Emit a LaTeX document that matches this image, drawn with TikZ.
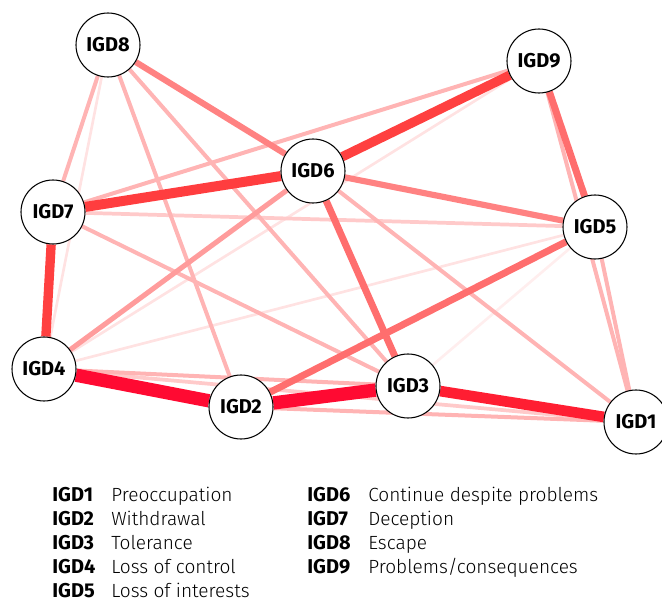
\documentclass[tikz,border=0pt]{standalone}
\usepackage{fontspec}
\setmainfont{Fira Sans Light}[BoldFont={Fira Sans Bold}]
\usepackage{xcolor}
\usepackage{tikz}
\usetikzlibrary{backgrounds}

\definecolor{tieA}{HTML}{FF0A32}
\definecolor{tieB}{HTML}{FF1E32}
\definecolor{tieC}{HTML}{FF4040}
\definecolor{tieD}{HTML}{FF6E6E}
\definecolor{tieE}{HTML}{FF8282}
\definecolor{tieF}{HTML}{FF9C9C}
\definecolor{tieG}{HTML}{FFB4B4}
\definecolor{tieH}{HTML}{FFCACA}
\definecolor{tieI}{HTML}{FFE2E2}

\begin{document}
\begin{tikzpicture}[
    x=0.75pt, y=0.75pt,
    symptom/.style={circle, draw=black, line width=0.8pt, fill=white, minimum size=48pt, inner sep=0pt, font=\fontsize{15}{18}\selectfont\bfseries},
    key/.style={anchor=base west, inner sep=0pt, font=\fontsize{15}{18}\selectfont\bfseries},
    keytext/.style={anchor=base west, inner sep=0pt, font=\fontsize{14.3}{18}\selectfont},
    tie1/.style={line width=10pt, draw=tieA},
    tie2/.style={line width=8pt, draw=tieB},
    tie3/.style={line width=7pt, draw=tieC},
    tie4/.style={line width=5.2pt, draw=tieD},
    tie5/.style={line width=4.6pt, draw=tieE},
    tie6/.style={line width=3.8pt, draw=tieF},
    tie7/.style={line width=3pt, draw=tieG},
    tie8/.style={line width=2.8pt, draw=tieH},
    tie9/.style={line width=2pt, draw=tieI}
]
\useasboundingbox (0,0) rectangle (662,601);

% symptoms
\node[symptom] (igd1) at (636,179) {IGD1};
\node[symptom] (igd2) at (241,194) {IGD2};
\node[symptom] (igd3) at (408,215) {IGD3};
\node[symptom] (igd4) at (44,232) {IGD4};
\node[symptom] (igd5) at (595,374) {IGD5};
\node[symptom] (igd6) at (313,430) {IGD6};
\node[symptom] (igd7) at (53,389) {IGD7};
\node[symptom] (igd8) at (108,556) {IGD8};
\node[symptom] (igd9) at (539,540) {IGD9};

\begin{pgfonlayer}{background}
% faint edges
\draw[tie9] (igd8) -- (igd4);
\draw[tie9] (igd4) -- (igd9);
\draw[tie9] (igd4) -- (igd5);
\draw[tie9, draw=tieI!60!white] (igd5) -- (igd3);
\draw[tie8] (igd7) -- (igd5);
\draw[tie8] (igd4) -- (igd1);

% light edges
\draw[tie7] (igd8) -- (igd7);
\draw[tie7] (igd8) -- (igd2);
\draw[tie7] (igd8) -- (igd3);
\draw[tie7] (igd7) -- (igd9);
\draw[tie7] (igd7) -- (igd3);
\draw[tie7] (igd6) -- (igd1);
\draw[tie7] (igd4) -- (igd3);
\draw[tie7] (igd2) -- (igd1);
\draw[tie7] (igd5) -- (igd1);
\draw[tie7] (igd9) -- (igd1);

% medium edges
\draw[tie6] (igd4) -- (igd6);
\draw[tie5] (igd8) -- (igd6);
\draw[tie5] (igd6) -- (igd5);
\draw[tie4] (igd9) -- (igd5);
\draw[tie4] (igd6) -- (igd3);
\draw[tie4] (igd2) -- (igd5);

% strong edges
\draw[tie3] (igd7) -- (igd4);
\draw[tie3] (igd6) -- (igd9);
\draw[tie3, line width=7.5pt, draw=tieC!90!tieB] (igd7) -- (igd6);
\draw[tie2] (igd3) -- (igd1);
\draw[tie1] (igd4) -- (igd2);
\draw[tie1] (igd2) -- (igd3);
\end{pgfonlayer}

% legend
\node[key] (k1) at (52,99) {IGD1};
\node[keytext] at (111,99) {Preoccupation};
\node[key] (k2) at (52,75) {IGD2};
\node[keytext] at (111,75) {Withdrawal};
\node[key] (k3) at (52,51) {IGD3};
\node[keytext] at (111,51) {Tolerance};
\node[key] (k4) at (52,27) {IGD4};
\node[keytext] at (111,27) {Loss of control};
\node[key] (k5) at (52,3.5) {IGD5};
\node[keytext] at (111,3.5) {Loss of interests};

\node[key] (k6) at (307,99) {IGD6};
\node[keytext] at (368,99) {Continue despite problems};
\node[key] (k7) at (307,75) {IGD7};
\node[keytext] at (368,75) {Deception};
\node[key] (k8) at (307,51) {IGD8};
\node[keytext] at (368,51) {Escape};
\node[key] (k9) at (307,27) {IGD9};
\node[keytext] at (368,27) {Problems/consequences};

\end{tikzpicture}
\end{document}
